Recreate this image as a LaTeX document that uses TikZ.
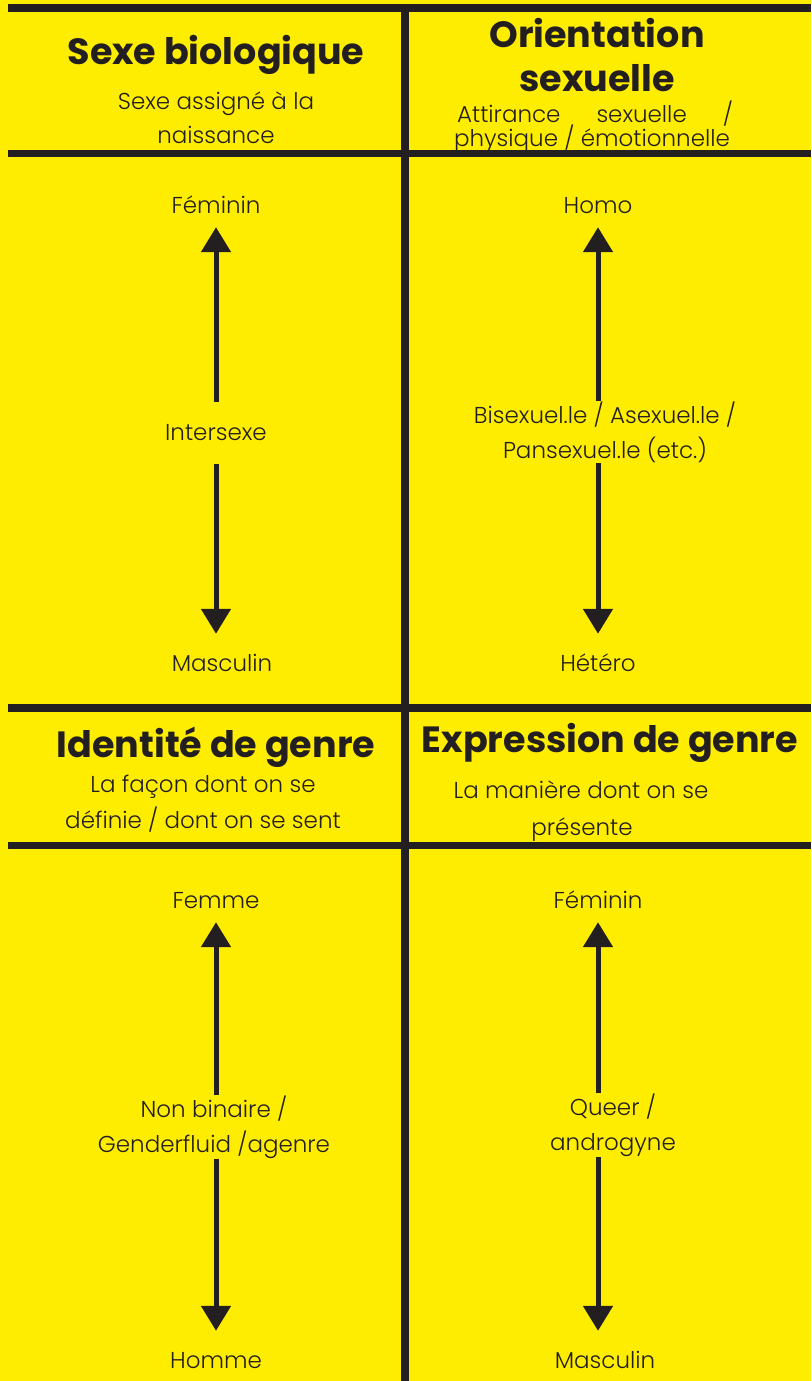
\documentclass[tikz,border=0pt]{standalone}
\usepackage{fontspec}
\setmainfont{Poppins}
\newfontfamily\thinfont{Poppins}[UprightFont={* Light}]
\usepackage{tikz}
\usetikzlibrary{arrows.meta}
\definecolor{signyellow}{HTML}{FFED00}
\definecolor{ink}{HTML}{231F20}
\newlength\subwidth

\begin{document}
\begin{tikzpicture}[x=1pt, y=-1pt,
        grid/.style={line width=7.5pt, ink},
        title/.style={font=\fontsize{36.5}{40}\selectfont\bfseries, text=ink, inner sep=0pt, anchor=base},
        note/.style={font={\thinfont\fontsize{23}{35}\selectfont}, text=ink, inner sep=0pt},
        subtitle/.style={note, anchor=base},
        tip/.style={note, text height=23pt, text depth=0pt, anchor=base},
        middle/.style={note, align=center, minimum height=62pt},
        axis/.style={line width=5pt, ink, -{Triangle[width=29pt, length=25pt]}, shorten >=14pt}]
        \useasboundingbox (0,0) rectangle (811,1381);
        \fill[signyellow] (0,0) rectangle (811,1381);

        \draw[grid] (8,8) -- (811,8);
        \draw[grid] (8,153.5) -- (811,153.5);
        \draw[grid] (8,708) -- (811,708);
        \draw[grid] (8,845.5) -- (811,845.5);
        \draw[grid] (405,4) -- (405,1381);

        % sexe biologique
        \node (sexT) at (216,65) [title] {Sexe biologique};
        \node (sexS1) at (216,109) [subtitle] {Sexe assigné à la};
        \node (sexS2) at (216,143) [subtitle] {naissance};
        \node (sexTop) at (216,213) [tip] {Féminin};
        \node (sexMid) at (216,433) [middle] {Intersexe};
        \node (sexBot) at (222,671) [tip] {Masculin};
        \draw[axis] (sexMid.north -| sexTop.south) -- (sexTop.south);
        \draw[axis] (sexMid.south -| sexTop.south) -- (sexBot.north -| sexTop.south);

        % orientation sexuelle
        \node (oriT1) at (597,48) [title] {Orientation};
        \node (oriT2) at (597,92) [title] {sexuelle};
        \node (oriS1) at (595,122) [subtitle] {\settowidth{\subwidth}{physique / émotionnelle}\hbox to \subwidth{Attirance\hfill sexuelle\hfill /}};
        \node (oriS2) at (592,146) [subtitle] {physique / émotionnelle};
        \node (oriTop) at (598,213) [tip] {Homo};
        \node (oriMid) at (605,432) [middle] {Bisexuel.le / Asexuel.le /\\Pansexuel.le (etc.)};
        \node (oriBot) at (598,671) [tip] {Hétéro};
        \draw[axis] (oriMid.north -| oriTop.south) -- (oriTop.south);
        \draw[axis] (oriMid.south -| oriTop.south) -- (oriBot.north -| oriTop.south);

        % identite de genre
        \node (idT) at (216,757) [title] {Identité de genre};
        \node (idS1) at (203,792) [subtitle] {La façon dont on se};
        \node (idS2) at (203,828) [subtitle] {définie / dont on se sent};
        \node (idTop) at (216,908) [tip] {Femme};
        \node (idMid) at (214,1127) [middle] {Non binaire /\\Genderfluid /agenre};
        \node (idBot) at (216,1368) [tip] {Homme};
        \draw[axis] (idMid.north -| idTop.south) -- (idTop.south);
        \draw[axis] (idMid.south -| idTop.south) -- (idBot.north -| idTop.south);

        % expression de genre
        \node (expT) at (610,752) [title] {Expression de genre};
        \node (expS1) at (581,798) [subtitle] {La manière dont on se};
        \node (expS2) at (582,835) [subtitle] {présente};
        \node (expTop) at (598,908) [tip] {Féminin};
        \node (expMid) at (613,1125) [middle] {Queer /\\androgyne};
        \node (expBot) at (605,1368) [tip] {Masculin};
        \draw[axis] (expMid.north -| expTop.south) -- (expTop.south);
        \draw[axis] (expMid.south -| expTop.south) -- (expBot.north -| expTop.south);
\end{tikzpicture}
\end{document}
